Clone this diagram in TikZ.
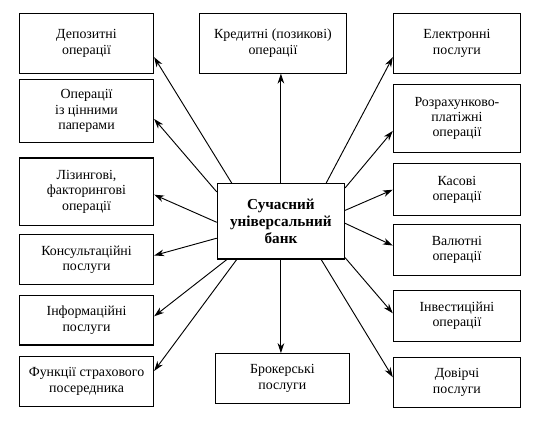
\documentclass[tikz,border=0pt]{standalone}
\usepackage{fontspec}
\setmainfont{Liberation Serif}
\usepackage{tikz}
\usetikzlibrary{arrows.meta, positioning}
\tikzset{
    scheme/.style={font=\fontsize{10.5}{11.6}\selectfont},
    scheme box/.style={draw, line width=0.9pt, align=center, inner sep=2pt,
        minimum width=101.25pt, minimum height=37.5pt},
    scheme side/.style={scheme box, minimum width=96pt},
    scheme main/.style={scheme box, minimum width=96pt, minimum height=57pt,
        font=\bfseries\fontsize{11.5}{13}\selectfont},
    scheme arrow/.style={-{Stealth[length=7.5pt, width=5pt, inset=2.4pt]}, line width=0.7pt},
}
\begin{document}
\begin{tikzpicture}[scheme]
  \node[scheme main] (bank) {Сучасний\\ універсальний\\ банк};
  \node[scheme box, minimum width=111pt, minimum height=45pt, above=82.5pt of bank, xshift=-6pt] (credit) {Кредитні (позикові)\\ операції};
  \node[scheme box, below=70.5pt of bank, xshift=1.1pt] (broker) {Брокерські\\ послуги};

  \node[scheme box, minimum height=45pt, left=33.75pt of credit] (deposit) {Депозитні\\ операції};
  \node[scheme box, minimum height=48pt, below=3.75pt of deposit] (securities) {Операції\\ із цінними\\ паперами};
  \node[scheme box, minimum height=51pt, below=10.5pt of securities] (leasing) {Лізингові,\\ факторингові\\ операції};
  \node[scheme box, below=6pt of leasing] (consult) {Консультаційні\\ послуги};
  \node[scheme box, below=7.5pt of consult] (info) {Інформаційні\\ послуги};
  \node[scheme box, minimum height=38.25pt, below=7.5pt of info] (insurance) {Функції страхового\\ посередника};

  \node[scheme side, minimum height=45pt, right=34.5pt of credit] (electronic) {Електронні\\ послуги};
  \node[scheme side, minimum height=51.75pt, below=7.5pt of electronic] (payment) {Розрахунково-\\ платіжні\\ операції};
  \node[scheme side, minimum height=39pt, below=7.5pt of payment] (cash) {Касові\\ операції};
  \node[scheme side, minimum height=38.25pt, below=6pt of cash] (currency) {Валютні\\ операції};
  \node[scheme side, minimum height=38.25pt, below=10.5pt of currency] (invest) {Інвестиційні\\ операції};
  \node[scheme side, minimum height=38.25pt, below=11.25pt of invest] (trust) {Довірчі\\ послуги};

  \useasboundingbox ([xshift=-14.25pt, yshift=9.75pt]deposit.north west) rectangle ([xshift=12.75pt, yshift=-14.25pt]trust.south east);

  \draw[scheme arrow] ([xshift=11.25pt]bank.north west) -- ([yshift=-10.5pt]deposit.east);
  \draw[scheme arrow] ([yshift=-6.75pt]bank.north west) -- ([yshift=-6pt]securities.east);
  \draw[scheme arrow] ([yshift=-0.75pt]bank.west) -- ([yshift=-2.25pt]leasing.east);
  \draw[scheme arrow] ([yshift=-12.75pt]bank.west) -- ([yshift=3pt]consult.east);
  \draw[scheme arrow] ([xshift=7.5pt]bank.south west) -- ([yshift=3pt]info.east);
  \draw[scheme arrow] ([xshift=15pt]bank.south west) -- ([yshift=8pt]insurance.east);
  \draw[scheme arrow] (bank.north) -- (bank.north |- credit.south);
  \draw[scheme arrow] (bank.south) -- (bank.south |- broker.north);
  \draw[scheme arrow] ([xshift=-14.25pt]bank.north east) -- ([yshift=-10.5pt]electronic.west);
  \draw[scheme arrow] ([yshift=-3.75pt]bank.north east) -- ([yshift=-9.4pt]payment.west);
  \draw[scheme arrow] ([yshift=8.25pt]bank.east) -- (cash.west);
  \draw[scheme arrow] ([yshift=-1.5pt]bank.east) -- ([yshift=3.4pt]currency.west);
  \draw[scheme arrow] ([yshift=1.5pt]bank.south east) -- ([yshift=1.9pt]invest.west);
  \draw[scheme arrow] ([xshift=-18pt]bank.south east) -- ([yshift=4pt]trust.west);
\end{tikzpicture}
\end{document}
